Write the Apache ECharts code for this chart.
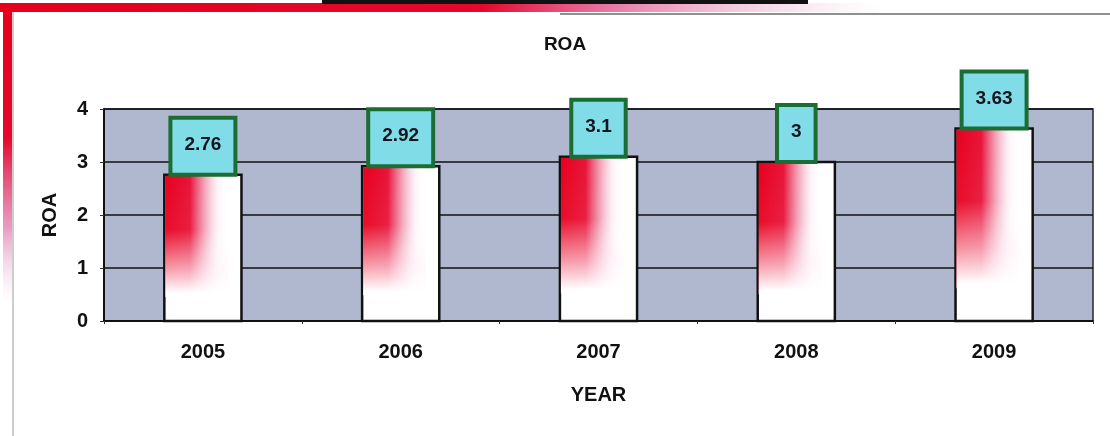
<!DOCTYPE html>
<html>
<head>
<meta charset="utf-8">
<script src="https://cdn.jsdelivr.net/npm/echarts@6/dist/echarts.min.js"></script>
<style>
  html, body { margin: 0; padding: 0; background: #ffffff; }
  #chart { width: 1110px; height: 436px; }
</style>
</head>
<body>
<div id="chart"></div>
<script>
// Return on assets by year
const years = ['2005', '2006', '2007', '2008', '2009'];
const roa = [2.76, 2.92, 3.1, 3, 3.63];
const roaLabels = ['2.76', '2.92', '3.1', '3', '3.63'];
const yTicks = [0, 1, 2, 3, 4];

const FONT = '"Liberation Sans", Arial, sans-serif';
const chart = echarts.init(document.getElementById('chart'));

// White bar with black outline, red wash in its upper-left that fades out
// to the right and downward, and a boxed value label on top.
function renderBar(params, api) {
  const idx = api.value(0);
  const val = api.value(1);
  const top = api.coord([idx, val]);
  const base = api.coord([idx, 0]);
  const w = api.size([1, 0])[0] * 0.39;
  const x = top[0] - w / 2;
  const h = base[1] - top[1];
  const redW = w * 0.8;
  const redH = h * 0.82;
  return {
    type: 'group',
    children: [
      {
        type: 'rect',
        shape: { x: x, y: top[1], width: w, height: h },
        style: { fill: '#ffffff', stroke: '#111111', lineWidth: 2.5 }
      },
      {
        type: 'rect',
        shape: { x: x + 1, y: top[1] + 1, width: redW, height: redH },
        style: {
          fill: new echarts.graphic.LinearGradient(0, 0, 1, 0, [
            { offset: 0, color: 'rgba(232,0,30,1)' },
            { offset: 0.4, color: 'rgba(230,0,40,0.92)' },
            { offset: 0.62, color: 'rgba(228,30,80,0.45)' },
            { offset: 0.85, color: 'rgba(230,120,170,0.08)' },
            { offset: 1, color: 'rgba(240,200,220,0)' }
          ])
        }
      },
      {
        type: 'rect',
        shape: { x: x + 1, y: top[1] + 1, width: redW + 1, height: redH + 1 },
        style: {
          fill: new echarts.graphic.LinearGradient(0, 0, 0, 1, [
            { offset: 0, color: 'rgba(255,255,255,0)' },
            { offset: 0.45, color: 'rgba(255,255,255,0.05)' },
            { offset: 0.75, color: 'rgba(255,245,250,0.6)' },
            { offset: 0.97, color: 'rgba(255,255,255,1)' },
            { offset: 1, color: 'rgba(255,255,255,1)' }
          ])
        }
      },
      {
        type: 'text',
        x: top[0],
        y: top[1] - 2,
        z2: 10,
        style: {
          text: roaLabels[params.dataIndex],
          align: 'center',
          verticalAlign: 'bottom',
          font: 'bold 19px ' + FONT,
          fill: '#15151f',
          backgroundColor: '#80dde8',
          borderColor: '#1b6d33',
          borderWidth: 4,
          padding: [15, 12, 18, 12],
          lineHeight: 20
        }
      }
    ]
  };
}

const option = {
  backgroundColor: '#ffffff',
  animation: false,
  title: {
    text: 'ROA',
    left: 560,
    top: 30,
    textAlign: 'center',
    textStyle: { fontFamily: FONT, fontSize: 19, fontWeight: 'bold', color: '#111111' }
  },
  grid: {
    left: 104, right: 17, top: 109, bottom: 115,
    show: true,
    backgroundColor: '#afb8ce',
    borderColor: '#22263a',
    borderWidth: 1.5
  },
  xAxis: {
    type: 'category',
    data: years,
    name: 'YEAR',
    nameLocation: 'middle',
    nameGap: 64,
    nameTextStyle: { fontFamily: FONT, fontSize: 20, fontWeight: 'bold', color: '#111111' },
    axisLine: { lineStyle: { color: '#111111', width: 2 } },
    axisTick: { show: true, length: 3, lineStyle: { color: '#333333' } },
    axisLabel: { margin: 21, fontFamily: FONT, fontSize: 20, fontWeight: 'bold', color: '#111111' }
  },
  yAxis: {
    type: 'value',
    min: yTicks[0],
    max: yTicks[yTicks.length - 1],
    interval: 1,
    name: 'ROA',
    nameLocation: 'middle',
    nameGap: 44,
    nameRotate: 90,
    nameTextStyle: { fontFamily: FONT, fontSize: 20, fontWeight: 'bold', color: '#111111' },
    axisLine: { show: true, lineStyle: { color: '#111111', width: 2 } },
    axisTick: { show: true, length: 4, lineStyle: { color: '#333333' } },
    axisLabel: { margin: 16, fontFamily: FONT, fontSize: 20, fontWeight: 'bold', color: '#111111' },
    splitLine: { show: true, lineStyle: { color: '#111111', width: 1.5 } }
  },
  series: [{
    type: 'custom',
    renderItem: renderBar,
    encode: { x: 0, y: 1 },
    data: roa.map((v, i) => [i, v]),
    z: 3
  }],
  graphic: [
    // page frame: red bands along the top and left edges
    {
      type: 'rect', silent: true, z: 0,
      shape: { x: 0, y: 3, width: 880, height: 9 },
      style: {
        fill: new echarts.graphic.LinearGradient(0, 0, 1, 0, [
          { offset: 0, color: '#e6001c' },
          { offset: 0.55, color: '#e4082c' },
          { offset: 0.7, color: 'rgba(226,80,140,0.75)' },
          { offset: 1, color: 'rgba(230,180,210,0)' }
        ])
      }
    },
    {
      type: 'rect', silent: true, z: 0,
      shape: { x: 3, y: 3, width: 9, height: 300 },
      style: {
        fill: new echarts.graphic.LinearGradient(0, 0, 0, 1, [
          { offset: 0, color: '#e6001c' },
          { offset: 0.45, color: '#e4082c' },
          { offset: 0.75, color: 'rgba(220,90,150,0.6)' },
          { offset: 1, color: 'rgba(230,190,220,0)' }
        ])
      }
    },
    {
      type: 'line', silent: true, z: 0,
      shape: { x1: 13, y1: 12, x2: 13, y2: 436 },
      style: { stroke: '#9a9aa0', lineWidth: 1 }
    },
    {
      type: 'rect', silent: true, z: 1,
      shape: { x: 322, y: 0, width: 486, height: 4 },
      style: { fill: '#111111' }
    },
    {
      type: 'line', silent: true, z: 0,
      shape: { x1: 560, y1: 14, x2: 1110, y2: 14 },
      style: { stroke: '#222222', lineWidth: 1.2 }
    }
  ]
};

chart.setOption(option);
</script>
</body>
</html>
